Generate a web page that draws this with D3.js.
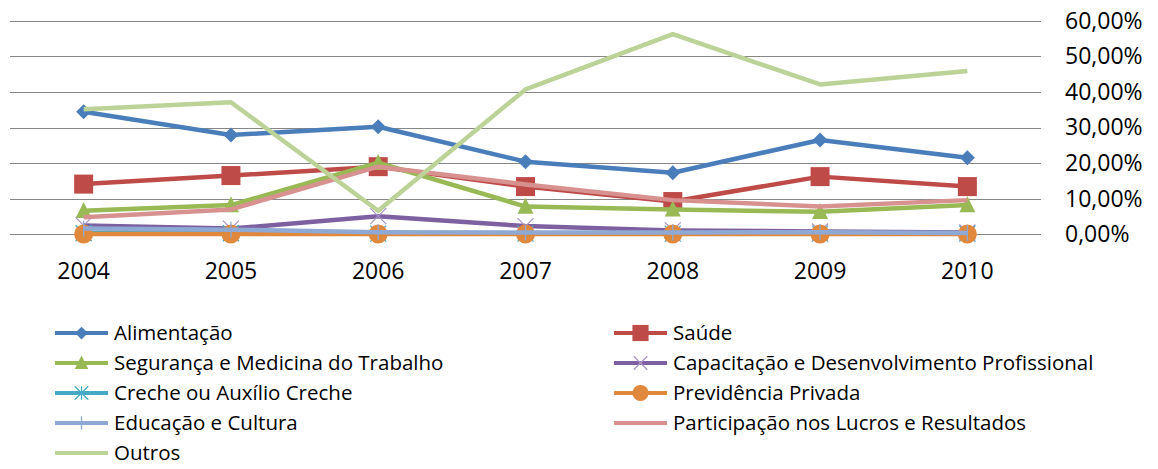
<!DOCTYPE html>
<html lang="pt">
<head>
    <meta charset="UTF-8">
    <title>Benefícios</title>
    <script src="https://d3js.org/d3.v7.min.js"></script>
    <style>
        body { margin: 0; background: #fff; }
        text { font-family: "Open Sans", sans-serif; fill: #000; }
    </style>
</head>
<body>
    <div id="chart"></div>
    <script>
        // dados (percentuais)
        var anos = ["2004", "2005", "2006", "2007", "2008", "2009", "2010"];
        var yTicks = [0, 0.1, 0.2, 0.3, 0.4, 0.5, 0.6];

        var alimentacao   = [0.344, 0.279, 0.302, 0.204, 0.173, 0.265, 0.215];
        var saude         = [0.141, 0.165, 0.190, 0.134, 0.092, 0.162, 0.134];
        var seguranca     = [0.066, 0.082, 0.201, 0.078, 0.070, 0.063, 0.082];
        var capacitacao   = [0.025, 0.016, 0.051, 0.023, 0.011, 0.008, 0.005];
        var creche        = [0.003, 0.003, 0.002, 0.002, 0.002, 0.002, 0.002];
        var previdencia   = [0.001, 0.001, 0.001, 0.001, 0.001, 0.001, 0.001];
        var educacao      = [0.016, 0.013, 0.006, 0.005, 0.005, 0.006, 0.004];
        var participacao  = [0.048, 0.070, 0.190, 0.140, 0.096, 0.078, 0.096];
        var outros        = [0.351, 0.371, 0.066, 0.407, 0.562, 0.421, 0.459];

        var series = [
            { nome: "Alimentação", valores: alimentacao, cor: "#4A7EBB", marca: "diamond" },
            { nome: "Saúde", valores: saude, cor: "#BE4B48", marca: "square" },
            { nome: "Segurança e Medicina do Trabalho", valores: seguranca, cor: "#98B954", marca: "triangle" },
            { nome: "Capacitação e Desenvolvimento Profissional", valores: capacitacao, cor: "#7D60A0", marca: "x" },
            { nome: "Creche ou Auxílio Creche", valores: creche, cor: "#46AAC5", marca: "star" },
            { nome: "Previdência Privada", valores: previdencia, cor: "#E0883C", marca: "circle" },
            { nome: "Educação e Cultura", valores: educacao, cor: "#8EA9D4", marca: "plus" },
            { nome: "Participação nos Lucros e Resultados", valores: participacao, cor: "#D79290", marca: "none" },
            { nome: "Outros", valores: outros, cor: "#BCD296", marca: "none" }
        ];

        var w = 1158, h = 469;

        var svg = d3.select("#chart").append("svg")
            .attr("width", w)
            .attr("height", h);

        var x = d3.scaleBand().domain(anos).range([10, 1041]).padding(0);
        var y = d3.scaleLinear().domain([0, 0.6]).range([234.3, 20.7]);

        var pt = d3.formatLocale({ decimal: ",", thousands: ".", grouping: [3], currency: ["R$", ""] });
        var fmt = pt.format(".2%");

        //grid------------------------
        svg.append("g").selectAll("line")
            .data(yTicks)
            .enter().append("line")
            .attr("x1", 10).attr("x2", 1041)
            .attr("y1", function(d) { return Math.round(y(d)) + 0.5; })
            .attr("y2", function(d) { return Math.round(y(d)) + 0.5; })
            .attr("stroke", "#868686")
            .attr("stroke-width", 1);

        //eixo y à direita
        var yAxis = svg.append("g")
            .attr("transform", "translate(1058,0)")
            .call(d3.axisRight(y).tickValues(yTicks).tickFormat(fmt).tickSize(0).tickPadding(7));
        yAxis.select(".domain").remove();
        yAxis.selectAll("text").style("font-size", "23px").attr("font-family", null);

        //eixo x
        var xAxis = svg.append("g")
            .attr("transform", "translate(0,263)")
            .call(d3.axisBottom(x).tickSize(0).tickPadding(0));
        xAxis.select(".domain").remove();
        xAxis.selectAll("text").style("font-size", "23px").attr("font-family", null);

        function marker(g, tipo, cx, cy, s, cor) {
            var r = s / 2;
            if (tipo == "diamond") {
                g.append("path").attr("d", "M" + cx + "," + (cy - r) + "L" + (cx + r) + "," + cy + "L" + cx + "," + (cy + r) + "L" + (cx - r) + "," + cy + "Z").attr("fill", cor);
            } else if (tipo == "square") {
                g.append("rect").attr("x", cx - r).attr("y", cy - r).attr("width", s).attr("height", s).attr("fill", cor);
            } else if (tipo == "triangle") {
                g.append("path").attr("d", "M" + cx + "," + (cy - r * 1.1) + "L" + (cx + r) + "," + (cy + r * 0.9) + "L" + (cx - r) + "," + (cy + r * 0.9) + "Z").attr("fill", cor);
            } else if (tipo == "circle") {
                g.append("circle").attr("cx", cx).attr("cy", cy).attr("r", r).attr("fill", cor);
            } else if (tipo == "x" || tipo == "star" || tipo == "plus") {
                var d = "";
                if (tipo != "plus") {
                    d += "M" + (cx - r) + "," + (cy - r) + "L" + (cx + r) + "," + (cy + r);
                    d += "M" + (cx + r) + "," + (cy - r) + "L" + (cx - r) + "," + (cy + r);
                }
                if (tipo != "x") {
                    d += "M" + cx + "," + (cy - r) + "L" + cx + "," + (cy + r);
                }
                g.append("path").attr("d", d).attr("stroke", tipo == "x" ? "#A996C6" : cor).attr("stroke-width", 1.3).attr("fill", "none");
            }
        }

        var tam = { diamond: 15, square: 19, triangle: 16, circle: 19, x: 16, star: 16, plus: 16 };

        var line = d3.line()
            .x(function(d, i) { return x(anos[i]) + x.bandwidth() / 2; })
            .y(function(d) { return y(d); });

        //séries------------------------
        series.forEach(function(s) {
            var g = svg.append("g");
            g.append("path")
                .datum(s.valores)
                .attr("d", line)
                .attr("fill", "none")
                .attr("stroke", s.cor)
                .attr("stroke-width", 4.5)
                .attr("stroke-linejoin", "round");
            s.valores.forEach(function(v, i) {
                marker(g, s.marca, x(anos[i]) + x.bandwidth() / 2, y(v), tam[s.marca], s.cor);
            });
        });

        //legenda------------------------
        var leg = svg.append("g");
        series.forEach(function(s, i) {
            var col = i % 2, row = Math.floor(i / 2);
            var lx = col == 0 ? 55 : 614;
            var ly = 333 + row * 30;
            var g = leg.append("g");
            g.append("line")
                .attr("x1", lx).attr("x2", lx + 53)
                .attr("y1", ly).attr("y2", ly)
                .attr("stroke", s.cor).attr("stroke-width", 4);
            marker(g, s.marca, lx + 26.5, ly, tam[s.marca] * 0.85, s.cor);
            g.append("text")
                .attr("x", lx + 59)
                .attr("y", ly)
                .attr("dy", "0.35em")
                .style("font-size", "20.5px")
                .text(s.nome);
        });
    </script>
</body>
</html>
